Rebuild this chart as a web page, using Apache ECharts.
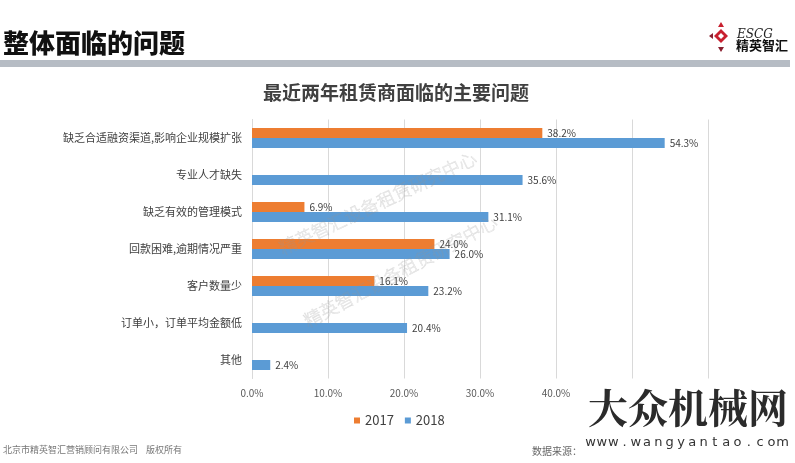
<!DOCTYPE html>
<html><head><meta charset="utf-8">
<script src="https://cdn.jsdelivr.net/npm/echarts@6/dist/echarts.min.js"></script>
<style>html,body{margin:0;padding:0;background:#fff}#c{width:795px;height:463px}</style>
</head><body><div id="c"></div>
<script>
const categories = ['缺乏合适融资渠道,影响企业规模扩张','专业人才缺失','缺乏有效的管理模式','回款困难,逾期情况严重','客户数量少','订单小，订单平均金额低','其他'];
const values2017 = [38.2, null, 6.9, 24.0, 16.1, null, null];
const values2018 = [54.3, 35.6, 31.1, 26.0, 23.2, 20.4, 2.4];
const seriesNames = ['2017', '2018'];
const xTicks = [0, 10, 20, 30, 40, 50, 60];

const F = '"Noto Sans CJK SC","Noto Sans",sans-serif';
const chart = echarts.init(document.getElementById('c'), null, {renderer:'canvas'});
const lbl = {show:true, position:'right', distance:5, fontSize:10, color:'#404040', fontFamily:F,
  formatter: p => p.value == null ? '' : p.value.toFixed(1) + '%'};

const site = 'www.wangyantao.com';
const siteChars = site.split('').map((ch, i) => ({
  type:'text', x:585 + 5.6 + i * 11.3, y:443, z:10,
  style:{text:ch, font:'13px "DejaVu Sans",sans-serif', fill:'#333', textAlign:'center', textVerticalAlign:'middle'}
}));
const wm = {font:'300 18px '+F, fill:'rgba(255,255,255,0)', stroke:'rgba(150,150,150,0.35)', lineWidth:0.5, textVerticalAlign:'middle'};

chart.setOption({
  animation:false,
  textStyle:{fontFamily:F},
  grid:{left:252, right:87, top:119.5, bottom:84.5, containLabel:false},
  legend:{data:seriesNames, left:349, top:409, itemWidth:6, itemHeight:6, itemGap:11, icon:'rect',
    textStyle:{fontSize:13, color:'#404040', fontFamily:F}},
  xAxis:{type:'value', min:xTicks[0], max:xTicks[xTicks.length-1], interval:10,
    axisLine:{show:false}, axisTick:{show:false},
    splitLine:{lineStyle:{color:'#d9d9d9', width:1}},
    axisLabel:{margin:10, fontSize:10, color:'#595959', fontFamily:F,
      formatter: v => (v >= 50 ? '' : v.toFixed(1) + '%')}},
  yAxis:{type:'category', data:categories, inverse:true,
    axisLine:{show:true, lineStyle:{color:'#d9d9d9'}}, axisTick:{show:false},
    axisLabel:{margin:10, fontSize:11, color:'#404040', fontFamily:F}},
  series:[
    {name:seriesNames[0], type:'bar', data:values2017, barWidth:10, barGap:'0%', itemStyle:{color:'#ED7D31'}, label:lbl},
    {name:seriesNames[1], type:'bar', data:values2018, barWidth:10, barGap:'0%', itemStyle:{color:'#5B9BD5'}, label:lbl}
  ],
  graphic:[
    {type:'text', left:3, top:30, style:{text:'整体面临的问题', font:'900 26px '+F, fill:'#111'}},
    {type:'rect', shape:{x:0,y:60,width:790,height:7}, style:{fill:'#B6BCC4'}},
    {type:'text', left:263, top:83, style:{text:'最近两年租赁商面临的主要问题', font:'bold 19px '+F, fill:'#404040'}},
    // logo
    {type:'polygon', shape:{points:[[721,29],[728,36],[721,43],[714,36]]}, style:{fill:'#C8202F'}},
    {type:'polygon', shape:{points:[[721,33],[724,36],[721,39],[718,36]]}, style:{fill:'#fff'}},
    {type:'polygon', shape:{points:[[718,27],[724,27],[721,22]]}, style:{fill:'#C8202F'}},
    {type:'polygon', shape:{points:[[718,47],[724,47],[721,52]]}, style:{fill:'#8a2030'}},
    {type:'polygon', shape:{points:[[713,33],[713,39],[709,36]]}, style:{fill:'#8a2030'}},
    {type:'text', left:737, top:29, style:{text:'ESCG', font:'italic 12px "DejaVu Serif",serif', fill:'#222'}},
    {type:'text', left:736, top:39, style:{text:'精英智汇', font:'bold 13px '+F, fill:'#111'}},
    // diagonal watermarks
    {type:'text', x:280, y:249, rotation:0.44, z:10, style:Object.assign({text:'精英智汇设备租赁研究中心'}, wm)},
    {type:'text', x:305, y:322, rotation:0.49, z:10, style:Object.assign({text:'精英智汇设备租赁研究中心'}, wm)},
    // footer
    {type:'text', left:3, top:445, style:{text:'北京市精英智汇营销顾问有限公司    版权所有', font:'9px '+F, fill:'#777'}},
    {type:'text', left:532, top:446, style:{text:'数据来源：', font:'10px '+F, fill:'#666'}},
    {type:'text', left:588, top:388, z:10, style:{text:'大众机械网', font:'bold 40px "Noto Serif CJK SC","Noto Sans CJK SC",serif', fill:'#2b2b2b'}}
  ].concat(siteChars)
});
</script></body></html>
